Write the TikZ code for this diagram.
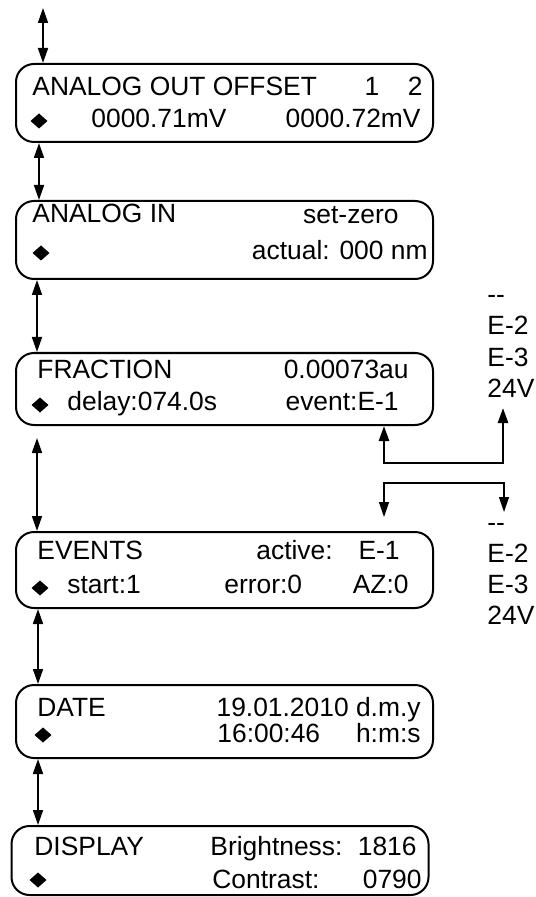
\documentclass[tikz,border=0pt]{standalone}
\usepackage{fontspec}
\setmainfont{Liberation Sans}
\usetikzlibrary{arrows.meta}

% filled diamond used as the cursor mark of each display
\newcommand{\lcdcursor}[1]{\fill (#1) +(-8.5,0) -- +(0,-7.5) -- +(8.5,0) -- +(0,7.5) -- cycle;}

\begin{document}
\begin{tikzpicture}[x=0.5pt, y=-0.5pt,
    lcd/.style={draw, line width=1pt, rounded corners=9pt, minimum width=208.5pt, minimum height=38pt, inner sep=0pt},
    lbl/.style={inner sep=0pt, font=\fontsize{13.2}{16}\selectfont},
    link/.style={line width=0.85pt, {Triangle[length=7.5pt,width=5pt]}-{Triangle[length=7.5pt,width=5pt]}},
    bus/.style={line width=1.3pt, {Triangle[length=7.5pt,width=5pt]}-{Triangle[length=7.5pt,width=5pt]}},
    thinbus/.style={line width=0.6pt, {Triangle[length=7.5pt,width=5pt]}-{Triangle[length=7.5pt,width=5pt]}}
]
    \useasboundingbox (0,0) rectangle (535,897);

    \node[lcd, minimum height=39pt] (offset) at (224.5,103) {};
    \node[lcd, minimum height=39pt] (analogin) at (224.5,240) {};
    \node[lcd, minimum height=36pt] (fraction) at (224.5,389) {};
    \node[lcd] (events) at (224.5,570) {};
    \node[lcd, minimum height=36.5pt] (date) at (224.5,721.5) {};
    \node[lcd, minimum height=34.5pt] (display) at (220,860.5) {};

    % ANALOG OUT OFFSET
    \node[lbl, anchor=base west] (offsettitle) at (32,96) {ANALOG OUT OFFSET};
    \node[lbl, anchor=base east] (offsetch) at (423,96) {1\hspace{14.25pt}2};
    \lcdcursor{39,121}
    \node[lbl, anchor=base west] (offsetone) at (91,128) {0000.71mV};
    \node[lbl, anchor=base east] (offsettwo) at (421,128) {0000.72mV};

    % ANALOG IN
    \node[lbl, anchor=base west] (analogtitle) at (32,223) {ANALOG IN};
    \node[lbl, anchor=base east] (setzero) at (399,224) {set-zero};
    \lcdcursor{41,253}
    \node[lbl, anchor=base east] (actual) at (428,260) {actual: 000 nm};

    % FRACTION
    \node[lbl, anchor=base west] (fractitle) at (37,379) {FRACTION};
    \node[lbl, anchor=base east] (fracau) at (409,379) {0.00073au};
    \lcdcursor{40,405}
    \node[lbl, anchor=base west] (delay) at (67,410) {delay:074.0s};
    \node[lbl, anchor=base east] (event) at (399,410) {event:E-1};

    % EVENTS
    \node[lbl, anchor=base west] (evtitle) at (37,559) {EVENTS};
    \node[lbl, anchor=base west] (active) at (256,559) {active:};
    \node[lbl, anchor=base east] (activeev) at (400,559) {E-1};
    \lcdcursor{40,588}
    \node[lbl, anchor=base west] (start) at (67,593) {start:1};
    \node[lbl, anchor=base west] (error) at (224,593) {error:0};
    \node[lbl, anchor=base east] (az) at (409,593) {AZ:0};

    % DATE
    \node[lbl, anchor=base west] (datetitle) at (37,716) {DATE};
    \node[lbl, anchor=base east] (day) at (421,716) {19.01.2010 d.m.y};
    \lcdcursor{43,735}
    \node[lbl, anchor=base west] (time) at (217,742) {16:00:46};
    \node[lbl, anchor=base east] (hms) at (421,742) {h:m:s};

    % DISPLAY
    \node[lbl, anchor=base west] (disptitle) at (34,855) {DISPLAY};
    \node[lbl, anchor=base west] (bright) at (210,855) {Brightness:};
    \node[lbl, anchor=base east] (brightval) at (417,855) {1816};
    \lcdcursor{38,880}
    \node[lbl, anchor=base west] (contrast) at (212,888) {Contrast:};
    \node[lbl, anchor=base east] (contrastval) at (422,888) {0790};

    % event choices
    \foreach \s [count=\i] in {-{}-, E-2, E-3, 24V}
        \node[lbl, anchor=base west] (selA\i) at (487,{304+31*(\i-1)}) {\s};
    \foreach \s [count=\i] in {-{}-, E-2, E-3, 24V}
        \node[lbl, anchor=base west] (selB\i) at (487,{531+31*(\i-1)}) {\s};

    % menu chain
    \coordinate (entry) at (43,8);
    \draw[link] (entry) -- (entry |- offset.north);
    \draw[link] ([xshift=12pt]offset.south west) -- ([xshift=12pt]offset.south west |- analogin.north);
    \draw[link] ([xshift=11pt]analogin.south west) -- ([xshift=11pt]analogin.south west |- fraction.north);
    \draw[link] ([xshift=11pt,yshift=-6pt]fraction.south west) -- ([xshift=11pt]fraction.south west |- events.north);
    \draw[link] ([xshift=11.5pt]events.south west) -- ([xshift=11.5pt]events.south west |- date.north);
    \draw[link] ([xshift=11.5pt]date.south west) -- ([xshift=11.5pt]date.south west |- display.north);

    % selection of the event
    \coordinate (selupper) at (503,408);
    \draw[bus] ([xshift=-25pt]fraction.south east) -- ++(0,-18.5pt) -| (selupper);
    \coordinate (sellower) at (504,512);
    \draw[thinbus] ([xshift=-25pt,yshift=7pt]events.north east) -- ++(0,17pt) -| (sellower);
\end{tikzpicture}
\end{document}
